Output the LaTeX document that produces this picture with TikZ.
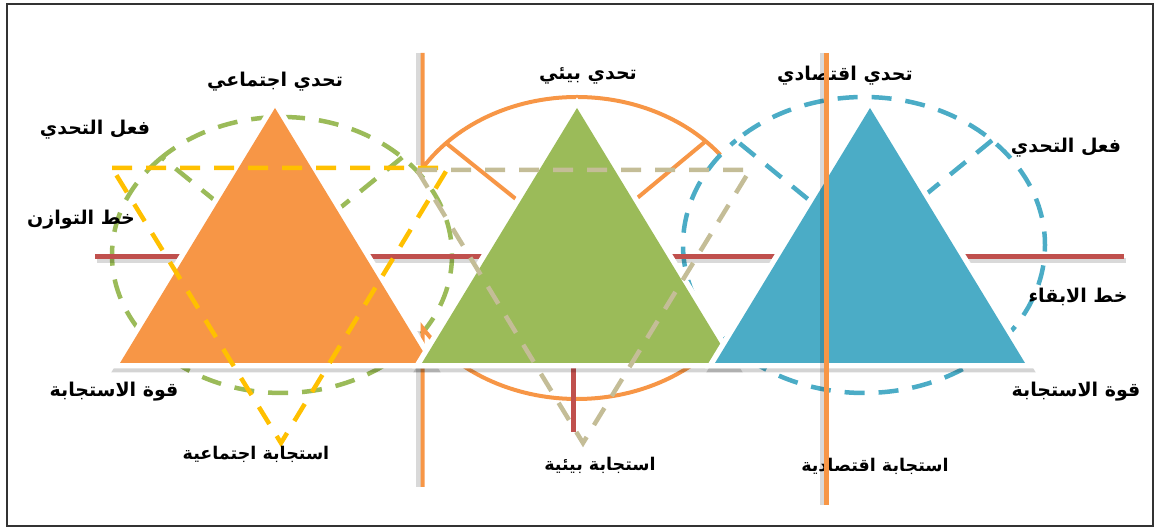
\documentclass[tikz,border=0pt]{standalone}
\usepackage{fontspec}
\newfontfamily\arabicfont[Script=Arabic]{DejaVu Sans}
\TeXXeTstate=1
\definecolor{orng}{HTML}{F79646}
\definecolor{grn}{HTML}{9BBB59}
\definecolor{blu}{HTML}{4BACC6}
\definecolor{rd}{HTML}{C0504D}
\definecolor{ylw}{HTML}{FFC000}
\definecolor{tan}{HTML}{C4BD97}

\begin{document}
\begin{tikzpicture}[x=1pt,y=1pt,
	lbl/.style={font=\arabicfont\bfseries\fontsize{19}{23}\selectfont,inner sep=0pt},
	sml/.style={font=\arabicfont\bfseries\fontsize{17.5}{21}\selectfont,inner sep=0pt},
	tri/.style={preaction={draw=black,opacity=.17,line width=11pt,transform canvas={shift={(1pt,-4pt)}}},preaction={draw=white,line width=11pt}},
	dsh/.style={line width=4.5pt,dash pattern=on 20pt off 14pt},
	orngln/.style={orng,line width=4pt},
	shd/.style={black,opacity=.15,line width=5pt}]
		\useasboundingbox (0,0) rectangle (1157,527);
		\draw[line width=1.5pt,black!80] (7,1) rectangle (1153,523);
		% circles of the three challenges
		\coordinate (gc) at (282,272);
		\draw[dsh,grn] ([shift={(gc)}]45:170 and 138) -- (gc) -- ([shift={(gc)}]135:170 and 138) arc[start angle=135,end angle=-225,x radius=170,y radius=138];
		\coordinate (oc) at (577,279);
		\path ([shift={(oc)}]148:182 and 151) coordinate (otl) ([shift={(oc)}]212:182 and 151) coordinate (obl);
		\draw[shd] (418,474) -- (418,362);
		\draw[shd] (418,196) -- (418,40);
		\draw[orngln] (otl |- 0,474) -- (otl) arc[start angle=148,end angle=38,x radius=182,y radius=151];
		\draw[orngln] ([shift={(oc)}]136:182 and 151) -- (oc) -- ([shift={(oc)}]45:182 and 151);
		\draw[orngln] (obl |- 0,40) -- (obl) arc[start angle=212,end angle=322,x radius=182,y radius=151];
		\coordinate (bc) at (864,282);
		\draw[dsh,blu] ([shift={(bc)}]45:181 and 148) -- (bc) -- ([shift={(bc)}]135:181 and 148) arc[start angle=135,end angle=-225,x radius=181,y radius=148];
		% lines
		\draw[shd] (97,266) -- (1126,266);
		\draw[rd,line width=5pt] (95,270) -- (1124,270);
		\draw[rd,line width=5pt] (573,164) -- (573,95);
		% triangles
		\fill[tri,fill=orng] (275,419) -- (120,164) -- (430,164) -- cycle;
		\fill[tri,fill=grn] (577,419) -- (422,164) -- (732,164) -- cycle;
		\fill[tri,fill=blu] (870,419) -- (715,164) -- (1025,164) -- cycle;
		\draw[dsh,ylw] (112,359) -- (448,359) -- (281,84) -- cycle;
		\draw[dsh,tan] (417,357) -- (750,357) -- (583,84) -- cycle;
		% labels
		\node[lbl] (tsoc) at (275,445) {\beginR تحدي اجتماعي\endR};
		\node[lbl] (tenv) at (588,451) {\beginR تحدي بيئي\endR};
		\node[lbl] (teco) at (845,451) {\beginR تحدي اقتصادي\endR};
		\node[lbl] (actl) at (95,397) {\beginR فعل التحدي\endR};
		\node[lbl] (actr) at (1066,379) {\beginR فعل التحدي\endR};
		\node[lbl] (bal) at (81,307) {\beginR خط التوازن\endR};
		\node[lbl] (keep) at (1078,230) {\beginR خط الابقاء\endR};
		\node[lbl] (powl) at (114,135) {\beginR قوة الاستجابة\endR};
		\node[lbl] (powr) at (1076,135) {\beginR قوة الاستجابة\endR};
		\node[sml] (rsoc) at (256,73) {\beginR استجابة اجتماعية\endR};
		\node[sml] (renv) at (600,62) {\beginR استجابة بيئية\endR};
		\node[sml] (reco) at (875,61) {\beginR استجابة اقتصادية\endR};
		% economic axis
		\draw[shd] (822,474) -- (822,22);
		\draw[orngln,line width=5pt] (826,474) -- (826,22);
\end{tikzpicture}
\end{document}
